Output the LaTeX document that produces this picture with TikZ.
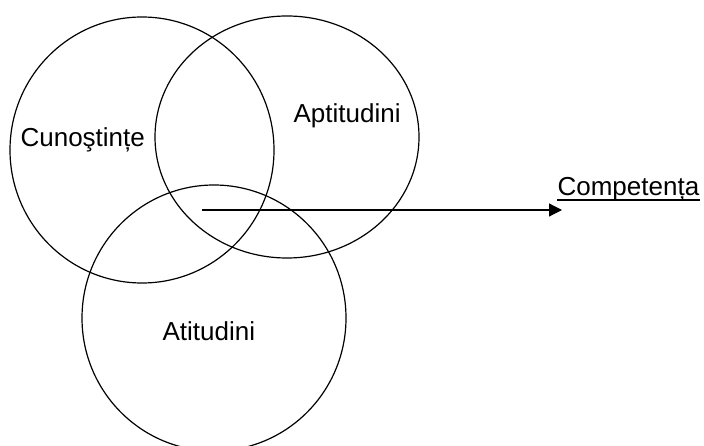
\documentclass[tikz,border=0pt]{standalone}
\usepackage{fontspec}
\setmainfont{Liberation Sans}
\usetikzlibrary{shapes.geometric,arrows.meta}

\begin{document}
\begin{tikzpicture}[x=1pt,y=-1pt,line width=1.2pt,
	set/.style={draw,ellipse,inner sep=0pt,minimum width=264pt},
	lbl/.style={anchor=base west,inner sep=0pt,font=\fontsize{26}{30}\selectfont}]
	  \useasboundingbox (0,0) rectangle (704,446);
	  \node[set,minimum height=266pt](cun) at (142,150) {};
	  \node[set,minimum height=242pt](apt) at (287,137) {};
	  \node[set,minimum height=266pt](ati) at (214,318) {};
	  \draw(20,147) node[lbl](tcun) {Cunoştințe};
	  \draw(293,123) node[lbl](tapt) {Aptitudini};
	  \draw(162,340) node[lbl](tati) {Atitudini};
	  \draw(557,196) node[lbl](comp) {Competența};
	  \draw([yshift=-4pt]comp.base west) -- ([yshift=-4pt]comp.base east);
	  \coordinate(core) at (202,210);
	  \draw[-{Triangle[length=13pt,width=13pt]}](core) -- (comp.base west |- core) -- ++(5,0);
	\end{tikzpicture}
\end{document}
